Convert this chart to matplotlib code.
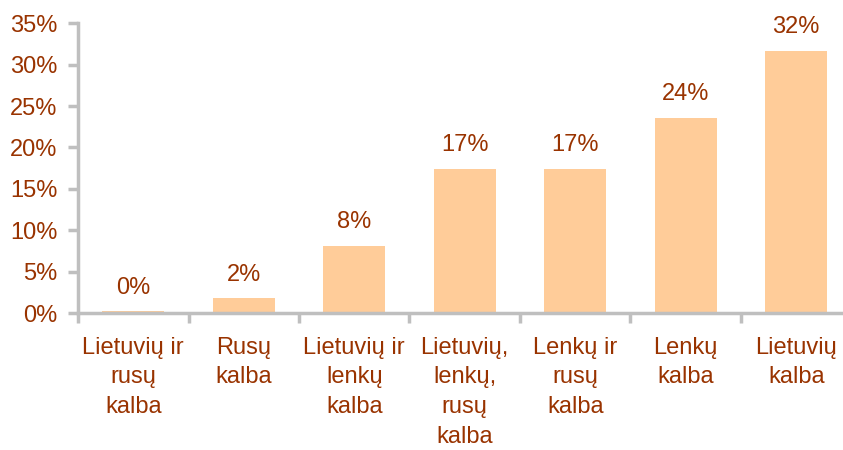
import matplotlib
matplotlib.use("Agg")
import matplotlib.pyplot as plt
from matplotlib.ticker import FixedLocator

categories = ["Lietuvių ir\nrusų\nkalba", "Rusų\nkalba", "Lietuvių ir\nlenkų\nkalba",
              "Lietuvių,\nlenkų,\nrusų\nkalba", "Lenkų ir\nrusų\nkalba", "Lenkų\nkalba",
              "Lietuvių\nkalba"]
values = [0.2, 1.8, 8.1, 17.4, 17.4, 23.6, 31.7]
value_labels = ["0%", "2%", "8%", "17%", "17%", "24%", "32%"]
yticks = [0, 5, 10, 15, 20, 25, 30, 35]

TXT = "#993300"
BAR = "#FFCC99"
AX = "#BFBFBF"
FS = 17

plt.rcParams['font.family'] = ['Liberation Sans', 'DejaVu Sans']

fig = plt.figure(figsize=(8.43, 4.5), dpi=100)
W, H = 843, 450
x0, y0, x1, y1 = 78, 313, 851.5, 23.3
ax = fig.add_axes([x0 / W, 1 - y0 / H, (x1 - x0) / W, (y0 - y1) / H])

xs = list(range(len(categories)))
ax.bar(xs, values, width=0.56, color=BAR, zorder=2)
for x, v, lab in zip(xs, values, value_labels):
    ax.annotate(lab, (x, v), xytext=(0, 9), textcoords="offset points",
                ha="center", va="bottom", color=TXT, fontsize=FS)

ax.set_xlim(-0.5, len(categories) - 0.5)
ax.set_ylim(0, 35)
ax.set_yticks(yticks)
ax.set_yticklabels([f"{t}%" for t in yticks])
ax.set_xticks(xs)
ax.set_xticklabels(categories)
ax.xaxis.set_minor_locator(FixedLocator([i - 0.5 for i in range(len(categories) + 1)]))
ax.tick_params(axis="x", which="major", length=0, pad=17, labelsize=FS, labelcolor=TXT)
ax.tick_params(axis="x", which="minor", length=7, width=2.5, color=AX, direction="out")
ax.tick_params(axis="y", length=7, width=2.5, color=AX, direction="out", pad=8,
               labelsize=FS, labelcolor=TXT)
for t in ax.get_xticklabels():
    t.set_linespacing(1.46)
    t.set_va("top")

for s in ["top", "right"]:
    ax.spines[s].set_visible(False)
for s in ["left", "bottom"]:
    ax.spines[s].set_color(AX)
    ax.spines[s].set_linewidth(2.5)

fig.savefig("out.png", dpi=100)
